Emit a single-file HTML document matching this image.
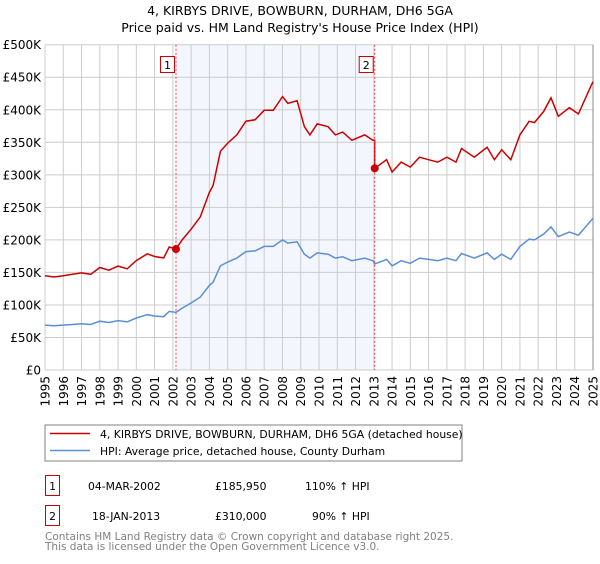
<!DOCTYPE html>
<html><head><meta charset="utf-8"><style>
body{margin:0;background:#fff;font-family:"DejaVu Sans","Liberation Sans",sans-serif;}
svg text{font-family:"DejaVu Sans","Liberation Sans",sans-serif;}
</style></head><body>
<svg id="c" width="600" height="560" xmlns="http://www.w3.org/2000/svg">
<text x="300" y="15" text-anchor="middle" font-size="12.5">4, KIRBYS DRIVE, BOWBURN, DURHAM, DH6 5GA</text>
<text x="300" y="32" text-anchor="middle" font-size="12.5">Price paid vs. HM Land Registry's House Price Index (HPI)</text>
<g id="plot"></g>
<rect x="45" y="425" width="417" height="36" fill="#fff" stroke="#808080"/>
<line x1="50" y1="433.5" x2="90" y2="433.5" stroke="#cc0000" stroke-width="1.5"/>
<text x="100" y="438" font-size="10.8">4, KIRBYS DRIVE, BOWBURN, DURHAM, DH6 5GA (detached house)</text>
<line x1="50" y1="450.5" x2="90" y2="450.5" stroke="#5b8fd4" stroke-width="1.5"/>
<text x="100" y="455" font-size="10.8">HPI: Average price, detached house, County Durham</text>
<g font-size="10.8">
<rect x="45.5" y="475.5" width="14" height="20" fill="none" stroke="#cc0000"/>
<text x="52.5" y="490" text-anchor="middle">1</text>
<text x="88" y="490">04-MAR-2002</text>
<text x="215" y="490">£185,950</text>
<text x="305" y="490">110% ↑ HPI</text>
<rect x="45.5" y="505.5" width="14" height="20" fill="none" stroke="#cc0000"/>
<text x="52.5" y="520" text-anchor="middle">2</text>
<text x="92" y="520">18-JAN-2013</text>
<text x="215" y="520">£310,000</text>
<text x="312" y="520">90% ↑ HPI</text>
</g>
<text x="45" y="540" font-size="10.5" fill="#808080">Contains HM Land Registry data © Crown copyright and database right 2025.</text>
<text x="45" y="550" font-size="10.5" fill="#808080">This data is licensed under the Open Government Licence v3.0.</text>
</svg>
<script>
const hpiYears=[1995,1995.5,1996,1996.5,1997,1997.5,1998,1998.5,1999,1999.5,2000,2000.6,2001,2001.5,2001.8,2002.17,2002.5,2003,2003.5,2004,2004.2,2004.6,2005,2005.5,2006,2006.5,2007,2007.5,2008,2008.3,2008.8,2009.2,2009.5,2009.9,2010.5,2010.9,2011.3,2011.8,2012.5,2012.95,2013.05,2013.7,2014.0,2014.5,2015,2015.5,2016,2016.5,2017,2017.5,2017.8,2018.5,2019.2,2019.6,2020,2020.5,2021,2021.5,2021.8,2022.3,2022.7,2023.1,2023.7,2024.2,2024.9,2025];
const hpiValues=[69,68,69,70,71,70,75,73,76,74,80,85,83,82,90,88.5,95,103,112,130,135,160,166,172,182,183,190,190,200,195,197,178,172,180,178,172,174,168,172,168,163,170,160,168,164,172,170,168,172,168,179,172,180,170,178,170,190,201,200,209,220,205,212,207,230,233];
const saleYears=[2002.17,2013.05];
const salePrices=[185950,310000];
const saleLabels=["1","2"];
const yTicks=[0,50,100,150,200,250,300,350,400,450,500];
const yTickLabels=["£0","£50K","£100K","£150K","£200K","£250K","£300K","£350K","£400K","£450K","£500K"];
const xTicks=[1995,1996,1997,1998,1999,2000,2001,2002,2003,2004,2005,2006,2007,2008,2009,2010,2011,2012,2013,2014,2015,2016,2017,2018,2019,2020,2021,2022,2023,2024,2025];

const L=45,R=593,T=44.7,B=370;
const X=y=>L+(y-1995)/30*(R-L);
const Y=v=>B-v/500*(B-T);
const NS="http://www.w3.org/2000/svg";
const g=document.getElementById('plot');
function mk(t,a){const e=document.createElementNS(NS,t);for(const k in a)e.setAttribute(k,a[k]);g.appendChild(e);return e;}

let e=mk('rect',{x:X(saleYears[0]),y:T,width:X(saleYears[1])-X(saleYears[0]),height:B-T,fill:'#eef2fc',opacity:0.7});


xTicks.forEach(t=>{
 let l=mk('line',{x1:X(t),x2:X(t),y1:T,y2:B,stroke:'#cccccc','stroke-width':1});
 
 
 let tx=mk('text',{x:0,y:0,'font-size':12,transform:`translate(${X(t)+4.5},${B+6}) rotate(-90)`,'text-anchor':'end'});
 tx.textContent=t;
 
 
});
yTicks.forEach((t,i)=>{
 let l=mk('line',{x1:L,x2:R,y1:Y(t),y2:Y(t),stroke:'#cccccc','stroke-width':1});
 
 
 let tx=mk('text',{x:L-4,y:Y(t)+4.5,'font-size':12,'text-anchor':'end'});
 tx.textContent=yTickLabels[i];
 
 
});
e=mk('line',{x1:R,x2:R,y1:T,y2:B,stroke:'#888',"stroke-width":1});



function interp(yr){for(let i=0;i<hpiYears.length-1;i++){if(yr<=hpiYears[i+1]){const f=(yr-hpiYears[i])/(hpiYears[i+1]-hpiYears[i]);return hpiValues[i]+f*(hpiValues[i+1]-hpiValues[i]);}}return hpiValues[hpiValues.length-1];}
const r1=salePrices[0]/1000/interp(saleYears[0]), r2=salePrices[1]/1000/interp(saleYears[1]);
let bp='',rp='';
hpiYears.forEach((yr,i)=>{
 bp+=(i?'L':'M')+X(yr).toFixed(1)+','+Y(hpiValues[i]).toFixed(1);
});
const redPts=[];
hpiYears.forEach((yr,i)=>{
 if(yr<saleYears[1]) redPts.push([yr,hpiValues[i]*r1]);
 else { if(yr===saleYears[1]) redPts.push([yr,hpiValues[i-1]*r1]); redPts.push([yr,hpiValues[i]*r2]); }
});
redPts.forEach((p,i)=>{rp+=(i?'L':'M')+X(p[0]).toFixed(1)+','+Y(p[1]).toFixed(1);});
e=mk('path',{d:bp,fill:'none',stroke:'#5b8fd4','stroke-width':1.5});


e=mk('path',{d:rp,fill:'none',stroke:'#cc0000','stroke-width':1.5});



saleYears.forEach((yr,i)=>{
 let l=mk('line',{x1:X(yr),x2:X(yr),y1:T,y2:B,stroke:'#ee4444','stroke-width':1,'stroke-dasharray':'2,2'});
 
 
 let c=mk('circle',{cx:X(yr),cy:Y(salePrices[i]/1000),r:4,fill:'#cc0000'});
 
 
 let b=mk('rect',{x:X(yr)-15.5,y:56.5,width:14,height:16,fill:'#fff',stroke:'#cc0000'});
 
 
 let t=mk('text',{x:X(yr)-8.5,y:69,'font-size':11,'text-anchor':'middle'});
 t.textContent=saleLabels[i];
 
 
});
</script>
</body></html>
